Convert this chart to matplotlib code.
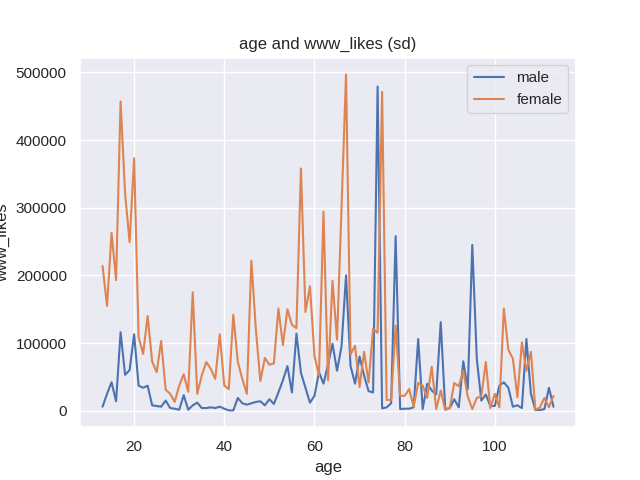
import numpy as np
import matplotlib
matplotlib.use("Agg")
from matplotlib import pyplot as plt
import seaborn as sns

# ages 13..113, one value per age
ages = list(range(13, 114))

male_likes = [
    6000, 25000, 42000, 14000, 116000, 53000, 60000, 113000, 37000, 34000,
    37000, 8000, 7000, 6000, 15000, 4000, 3000, 1500, 23000, 1500,
    8000, 12000, 4000, 4000, 5000, 4000, 6000, 3000, 500, 500,
    19000, 11000, 9000, 11000, 13000, 14000, 8000, 17000, 10000, 27000,
    45000, 66000, 27000, 114000, 56000, 34000, 12000, 22000, 57000, 40000,
    68000, 99000, 59000, 95000, 200000, 66000, 40000, 80000, 52000, 29000,
    27000, 479000, 3500, 5000, 11000, 258000, 2500, 3000, 3000, 5000,
    106000, 2500, 40000, 30000, 24000, 131000, 2500, 4000, 17000, 5000,
    73000, 32000, 245000, 77000, 15000, 24000, 7000, 7000, 37000, 42000,
    34000, 6000, 8000, 4000, 106000, 25000, 1000, 1000, 2500, 34000,
    6000,
]

female_likes = [
    214000, 155000, 263000, 193000, 457000, 321000, 249000, 373000, 109000, 84000,
    140000, 73000, 57000, 103000, 31000, 25000, 13000, 37000, 54000, 28000,
    175000, 25000, 52000, 72000, 62000, 47000, 113000, 37000, 32000, 142000,
    72000, 47000, 25000, 222000, 120000, 44000, 78000, 68000, 70000, 151000,
    97000, 150000, 127000, 122000, 358000, 146000, 184000, 81000, 52000, 294000,
    45000, 192000, 105000, 300000, 497000, 83000, 96000, 35000, 87000, 42000,
    121000, 115000, 471000, 16000, 16000, 126000, 22000, 22000, 32000, 6000,
    41000, 37000, 19000, 65000, 2500, 30000, 1000, 4000, 41000, 36000,
    59000, 21000, 2500, 19000, 21000, 72000, 4000, 25000, 5000, 151000,
    90000, 77000, 20000, 101000, 59000, 87000, 1000, 5000, 19000, 5000,
    22000,
]

sns.set_theme()
plt.rcParams['font.family'] = ['Liberation Sans', 'DejaVu Sans']

fig, ax = plt.subplots(figsize=(6.4, 4.8), dpi=100)
ax.plot(ages, male_likes, label="male")
ax.plot(ages, female_likes, label="female")

ax.set_title("age and www_likes (sd)")
ax.set_xlabel("age")
ax.set_ylabel("www_likes")
ax.legend(loc="upper right")

fig.savefig("out.png")
